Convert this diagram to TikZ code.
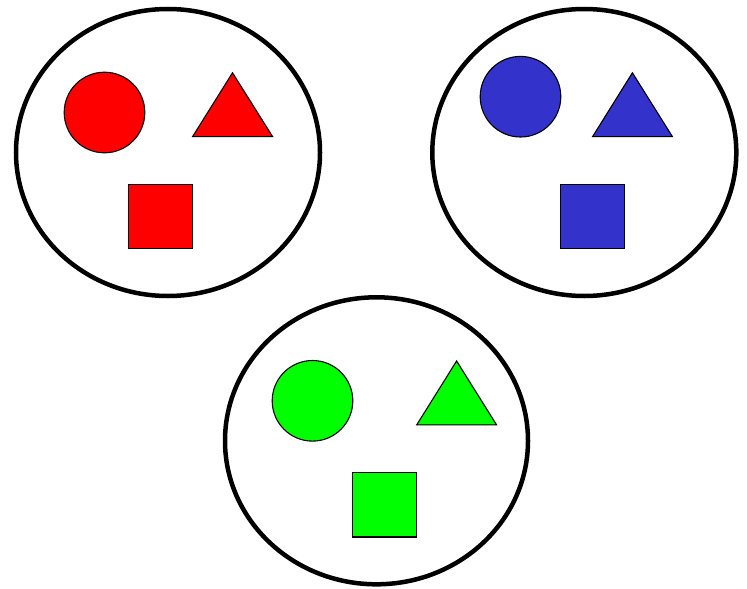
\documentclass[tikz,border=0pt]{standalone}
\definecolor{myred}{HTML}{FF0000}
\definecolor{myblue}{HTML}{3333CC}
\definecolor{mygreen}{HTML}{00FF00}
\begin{document}
\begin{tikzpicture}[x=1pt,y=-1pt,
  group/.style={draw=black,line width=4.5pt,fill=white},
  shp/.style={draw=black,line width=1.1pt,line join=miter}]
\useasboundingbox (0,0) rectangle (747,589);
% red group
\draw[group] (168,152.5) ellipse [x radius=152, y radius=143.5];
\draw[shp,fill=myred] (104.5,112.5) circle [radius=40.3];
\draw[shp,fill=myred] (232.5,72.8) -- (272.6,136.6) -- (192.6,136.6) -- cycle;
\draw[shp,fill=myred] (128.4,184.4) rectangle (192.6,248.6);
% blue group
\draw[group] (584.3,152.5) ellipse [x radius=152, y radius=143.5];
\draw[shp,fill=myblue] (520.5,96.7) circle [radius=40.3];
\draw[shp,fill=myblue] (632.4,72.8) -- (672.4,136.6) -- (592.6,136.6) -- cycle;
\draw[shp,fill=myblue] (560.4,184.4) rectangle (624.6,248.6);
% green group
\draw[group] (376.5,440.8) ellipse [x radius=151.5, y radius=143.5];
\draw[shp,fill=mygreen] (312.5,400.8) circle [radius=40.3];
\draw[shp,fill=mygreen] (456.6,361) -- (496.6,424.9) -- (416.7,424.9) -- cycle;
\draw[shp,fill=mygreen] (352.4,472.8) rectangle (416.6,537);
\end{tikzpicture}
\end{document}
